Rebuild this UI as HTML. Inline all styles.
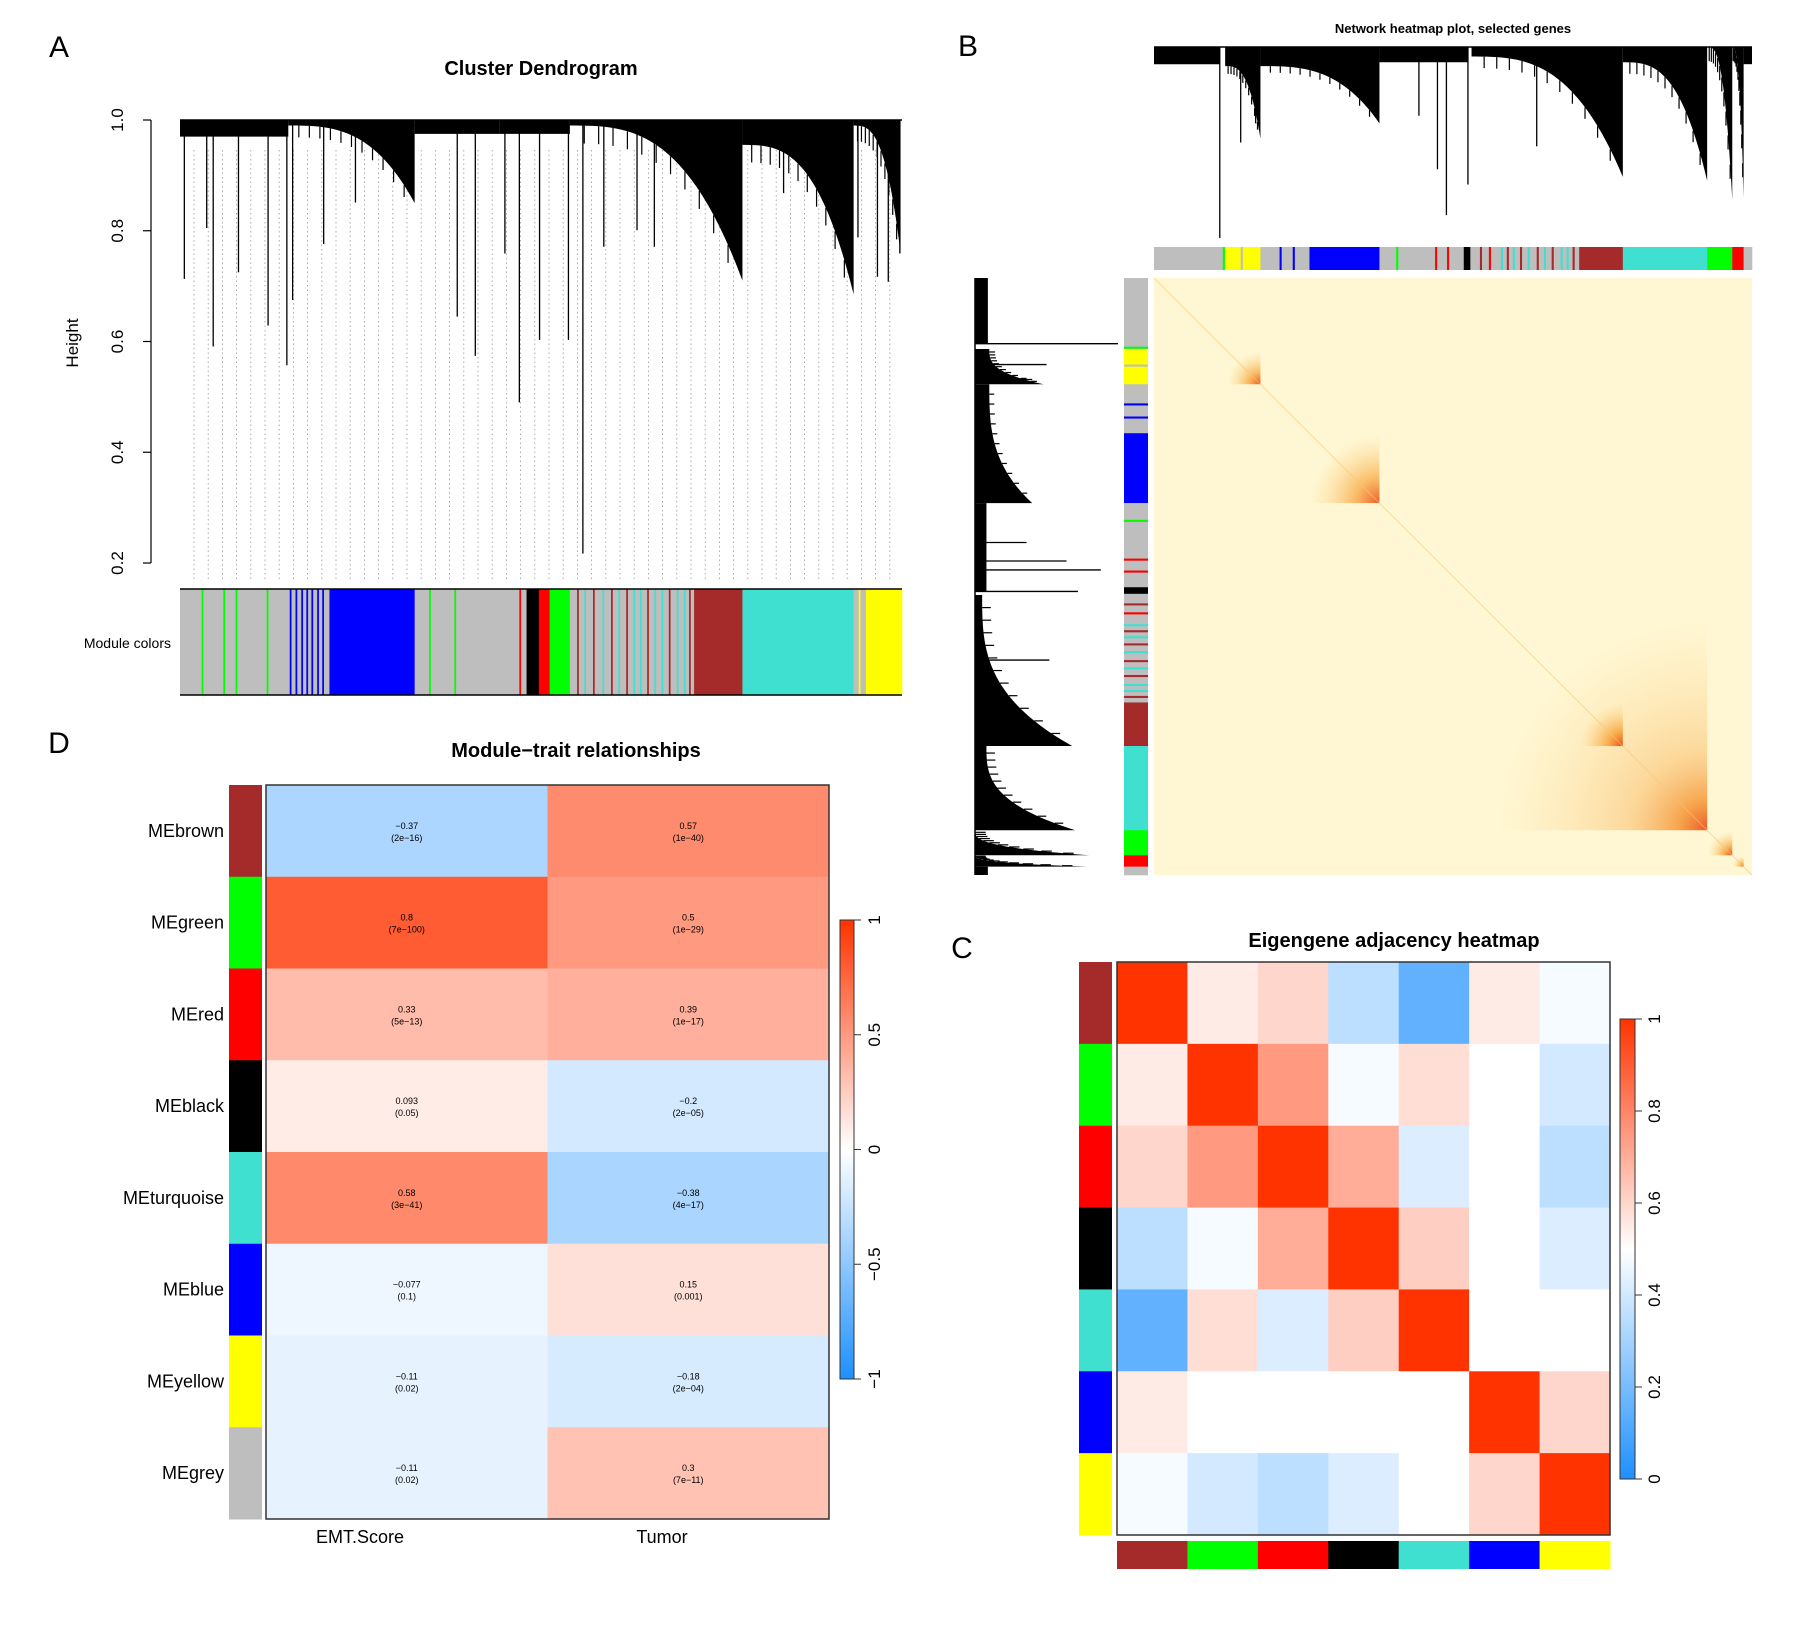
<!DOCTYPE html>
<html><head><meta charset="utf-8"><style>
html,body{margin:0;padding:0;background:#fff;}
svg{display:block;font-family:"Liberation Sans",Arial,sans-serif;}
</style></head><body>
<svg id="fig" width="1820" height="1631" viewBox="0 0 1820 1631" xmlns="http://www.w3.org/2000/svg">
<defs>
<linearGradient id="gD" x1="0" y1="1" x2="0" y2="0">
<stop offset="0" stop-color="#1e90ff"/><stop offset="0.5" stop-color="#ffffff"/><stop offset="1" stop-color="#ff3300"/>
</linearGradient>
</defs>
<g id="panelA"></g>
<g id="panelB"></g>
<g id="panelC"></g>
<g id="panelD"></g>
</svg>
<script>
// ---------- DATA ----------
const MC = {grey:'#bebebe',blue:'#0000ff',black:'#000000',red:'#ff0000',green:'#00ff00',brown:'#a52a2a',turquoise:'#40e0d0',yellow:'#ffff00'};
// Panel A dendrogram: flat blocks [x0,x1,h], curves [x0,x1,htop,hend], spikes [x,h]
const aBlocks = [[0.0,0.15,0.97],[0.325,0.442,0.975],[0.442,0.54,0.975]];
const aCurves = [[0.15,0.325,0.99,0.85],[0.54,0.779,0.99,0.71],[0.779,0.933,0.955,0.685],[0.933,0.998,0.99,0.76]];
const aSpikes = [[0.006,0.713],[0.046,0.591],[0.037,0.805],[0.081,0.725],[0.122,0.629],[0.148,0.557],[0.156,0.675],[0.199,0.776],[0.243,0.851],[0.384,0.645],[0.409,0.574],[0.470,0.490],[0.450,0.759],[0.498,0.603],[0.538,0.603],[0.558,0.217],[0.587,0.771],[0.633,0.801],[0.657,0.771],[0.836,0.868],[0.939,0.788],[0.966,0.717],[0.981,0.708],[0.997,0.759]];
const aSegs = [[0,0.15,'grey'],[0.15,0.207,'grey'],[0.207,0.325,'blue'],[0.325,0.48,'grey'],[0.48,0.497,'black'],[0.497,0.512,'red'],[0.512,0.54,'green'],[0.54,0.712,'grey'],[0.712,0.779,'brown'],[0.779,0.933,'turquoise'],[0.933,0.95,'grey'],[0.95,1,'yellow']];
const aStripes = [[0.03,'green'],[0.06,'green'],[0.077,'green'],[0.12,'green'],[0.152,'blue'],[0.16,'blue'],[0.168,'blue'],[0.175,'blue'],[0.182,'blue'],[0.19,'blue'],[0.197,'blue'],[0.345,'green'],[0.38,'green'],[0.47,'red'],[0.55,'brown'],[0.56,'turquoise'],[0.572,'brown'],[0.585,'turquoise'],[0.597,'brown'],[0.607,'turquoise'],[0.618,'brown'],[0.628,'turquoise'],[0.637,'turquoise'],[0.647,'brown'],[0.657,'turquoise'],[0.667,'turquoise'],[0.677,'brown'],[0.688,'turquoise'],[0.698,'turquoise'],[0.705,'brown'],[0.94,'yellow']];
const aTicks = [0.2,0.4,0.6,0.8,1.0];
// Panel B
const bBlocks = [[0,0.11,0.91],[0.377,0.525,0.92],[0.986,1,0.91]];
const bCurves = [[0.119,0.178,0.9,0.52],[0.178,0.377,0.9,0.6],[0.531,0.784,0.95,0.32],[0.784,0.925,0.92,0.3],[0.925,0.967,1.0,0.2],[0.967,0.986,1.0,0.21]];
const bSpikes = [[0.11,0.0],[0.474,0.36],[0.489,0.12],[0.525,0.28],[0.443,0.64],[0.64,0.48],[0.17,0.6],[0.145,0.5]];
const bSegs = [[0,0.119,'grey'],[0.119,0.178,'yellow'],[0.178,0.26,'grey'],[0.26,0.377,'blue'],[0.377,0.518,'grey'],[0.518,0.529,'black'],[0.529,0.711,'grey'],[0.711,0.784,'brown'],[0.784,0.925,'turquoise'],[0.925,0.967,'green'],[0.967,0.986,'red'],[0.986,1,'grey']];
const bStripes = [[0.115,'green'],[0.145,'grey'],[0.21,'blue'],[0.232,'blue'],[0.405,'green'],[0.47,'red'],[0.49,'red'],[0.545,'brown'],[0.56,'red'],[0.58,'turquoise'],[0.59,'brown'],[0.6,'turquoise'],[0.612,'brown'],[0.625,'turquoise'],[0.64,'brown'],[0.652,'turquoise'],[0.665,'brown'],[0.68,'turquoise'],[0.69,'turquoise'],[0.7,'brown']];
const bHeat = [[0.122,0.178,0.9],[0.26,0.377,0.85],[0.56,0.925,0.45],[0.711,0.784,0.95],[0.784,0.925,0.75],[0.925,0.967,0.95],[0.967,0.986,0.85]];
// Panel C
const cMods = ['brown','green','red','black','turquoise','blue','yellow'];
const cRow0 = [1,0.55,0.6,0.35,0.15,0.55,0.48];
const cRow1 = [0.55,1,0.75,0.48,0.58,0.5,0.4];
const cRow2 = [0.6,0.75,1,0.7,0.42,0.5,0.35];
const cRow3 = [0.35,0.48,0.7,1,0.62,0.5,0.42];
const cRow4 = [0.15,0.58,0.42,0.62,1,0.5,0.5];
const cRow5 = [0.55,0.5,0.5,0.5,0.5,1,0.6];
const cRow6 = [0.48,0.4,0.35,0.42,0.5,0.6,1];
const cTicks = ['0','0.2','0.4','0.6','0.8','1'];
// Panel D
const dRows = ['MEbrown','MEgreen','MEred','MEblack','MEturquoise','MEblue','MEyellow','MEgrey'];
const dRowCols = ['brown','green','red','black','turquoise','blue','yellow','grey'];
const dCols = ['EMT.Score','Tumor'];
const dEmt = [-0.37,0.8,0.33,0.093,0.58,-0.077,-0.11,-0.11];
const dEmtP = ['2e-16','7e-100','5e-13','0.05','3e-41','0.1','0.02','0.02'];
const dTum = [0.57,0.5,0.39,-0.2,-0.38,0.15,-0.18,0.3];
const dTumP = ['1e-40','1e-29','1e-17','2e-05','4e-17','0.001','2e-04','7e-11'];
const dTicks = ['−1','−0.5','0','0.5','1'];

// ---------- HELPERS ----------
const NS='http://www.w3.org/2000/svg';
function mk(parent,tag,attrs,txt){const e=document.createElementNS(NS,tag);for(const k in attrs)e.setAttribute(k,attrs[k]);if(txt!==undefined)e.textContent=txt;parent.appendChild(e);return e;}
function bwr(v){ // v in [-1,1]
  let r,g,b;
  if(v<0){const t=Math.min(1,-v);r=255-t*(255-30);g=255-t*(255-144);b=255;}
  else{const t=Math.min(1,v);r=255;g=255-t*204;b=255-t*255;}
  return `rgb(${Math.round(r)},${Math.round(g)},${Math.round(b)})`;
}
function fmt(v){return (v<0?'−':'')+String(Math.abs(v));}
function drawDendro(g,blocks,curves,spikes,P,name){
  const grp=mk(g,'g',{});
  
  
  const pt=(f,h)=>P(f,h).join(',');
  for(const b of blocks){
    const p=mk(grp,'polygon',{points:[pt(b[0],1),pt(b[1],1),pt(b[1],b[2]),pt(b[0],b[2])].join(' '),fill:'#000'});
    
    
  }
  for(const c of curves){
    const pts=[pt(c[0],1),pt(c[1],1)];
    for(let i=30;i>=0;i--){const t=i/30;const f=c[0]+(c[1]-c[0])*t;const h=c[2]-(c[2]-c[3])*Math.pow(t,3);pts.push(pt(f,h));}
    const p=mk(grp,'polygon',{points:pts.join(' '),fill:'#000'});
    
    
    // hair lines hanging below top
    for(let i=1;i<12;i++){const t=i/12;const f=c[0]+(c[1]-c[0])*t;const h=c[2]-(c[2]-c[3])*Math.pow(t,3);const h2=h-(c[2]-c[3])*0.08-0.01;
      const [x1,y1]=P(f,h),[x2,y2]=P(f,h2);mk(grp,'line',{x1,y1,x2,y2,stroke:'#000','stroke-width':1.2});}
  }
  for(const s of spikes){
    const [x1,y1]=P(s[0],1),[x2,y2]=P(s[0],s[1]);
    const l=mk(grp,'line',{x1,y1,x2,y2,stroke:'#000','stroke-width':1.3});
    
    
  }
  const [a1,b1]=P(0,1),[a2,b2]=P(1,1);
  mk(grp,'line',{x1:a1,y1:b1,x2:a2,y2:b2,stroke:'#000','stroke-width':1.5});
}
function colorBar(g,segs,stripes,R,name,sw){
  const grp=mk(g,'g',{});
  
  
  for(const s of segs){const r=R(s[0],s[1]);const e=mk(grp,'rect',Object.assign(r,{fill:MC[s[2]]}));
    
    }
  for(const s of stripes){const r=R(s[0],s[0]+sw);mk(grp,'rect',Object.assign(r,{fill:MC[s[1]]}));}
}

// ---------- PANEL A ----------
(function(){
  const g=document.getElementById('panelA');
  const X0=180,X1=902,yA=h=>120+(1-h)/0.8*443;
  const P=(f,h)=>[X0+f*(X1-X0),yA(h)];
  mk(g,'text',{x:59,y:57,'font-size':30,'text-anchor':'middle'},'A');
  const t=mk(g,'text',{x:541,y:75,'font-size':20,'font-weight':'bold','text-anchor':'middle'},'Cluster Dendrogram');
  
  
  // dotted guides
  for(let x=194;x<X1;x+=14.2){mk(g,'line',{x1:x,y1:150,x2:x,y2:581,stroke:'#999','stroke-width':0.8,'stroke-dasharray':'1.5,3'});}
  drawDendro(g,aBlocks,aCurves,aSpikes,P,'dendrogram-a');
  // y axis
  mk(g,'line',{x1:151,y1:yA(1),x2:151,y2:yA(0.2),stroke:'#000','stroke-width':1.2});
  for(const v of aTicks){const y=yA(v);mk(g,'line',{x1:143,y1:y,x2:151,y2:y,stroke:'#000','stroke-width':1.2});
    const tx=mk(g,'text',{x:123,y:y,'font-size':17,'text-anchor':'middle',transform:`rotate(-90 123 ${y})`},v.toFixed(1));
    
    }
  const yl=mk(g,'text',{x:78,y:343,'font-size':17,'text-anchor':'middle',transform:'rotate(-90 78 343)'},'Height');
  
  
  colorBar(g,aSegs,aStripes,(a,b)=>({x:X0+a*(X1-X0),y:589,width:(b-a)*(X1-X0)+0.3,height:106}),'module-color-bar-a',0.002);
  mk(g,'line',{x1:X0,y1:589,x2:X1,y2:589,stroke:'#000','stroke-width':1.5});
  mk(g,'line',{x1:X0,y1:695,x2:X1,y2:695,stroke:'#000','stroke-width':1.5});
  const ml=mk(g,'text',{x:171,y:648,'font-size':14,'text-anchor':'end'},'Module colors');
  
  
})();

// ---------- PANEL B ----------
(function(){
  const g=document.getElementById('panelB');
  const HX0=1154,HX1=1752,HY0=278,HY1=875;
  mk(g,'text',{x:968,y:56,'font-size':30,'text-anchor':'middle'},'B');
  const t=mk(g,'text',{x:1453,y:33,'font-size':13,'font-weight':'bold','text-anchor':'middle'},'Network heatmap plot, selected genes');
  
  
  drawDendro(g,bBlocks,bCurves,bSpikes,(f,h)=>[HX0+f*(HX1-HX0),47+(1-h)*191],'dendrogram-top');
  drawDendro(g,bBlocks,bCurves,bSpikes,(f,h)=>[975+(1-h)*143,HY0+f*(HY1-HY0)],'dendrogram-left');
  colorBar(g,bSegs,bStripes,(a,b)=>({x:HX0+a*(HX1-HX0),y:247,width:(b-a)*(HX1-HX0)+0.3,height:23}),'module-color-bar-top',0.003);
  colorBar(g,bSegs,bStripes,(a,b)=>({x:1124,y:HY0+a*(HY1-HY0),width:24,height:(b-a)*(HY1-HY0)+0.3}),'module-color-bar-left',0.003);
  const hm=mk(g,'g',{});
  
  
  mk(hm,'rect',{x:HX0,y:HY0,width:HX1-HX0,height:HY1-HY0,fill:'#fff7d4'});
  const defs=document.querySelector('defs');
  bHeat.forEach((b,i)=>{
    const rg=mk(defs,'radialGradient',{id:'bh'+i,cx:'1',cy:'1',r:'1'});
    mk(rg,'stop',{offset:'0','stop-color':'#e8400f','stop-opacity':b[2]});
    mk(rg,'stop',{offset:'0.35','stop-color':'#f5921a','stop-opacity':b[2]*0.7});
    mk(rg,'stop',{offset:'1','stop-color':'#fbd27a','stop-opacity':0});
    const x=HX0+b[0]*(HX1-HX0),w=(b[1]-b[0])*(HX1-HX0),y=HY0+b[0]*(HY1-HY0),h=(b[1]-b[0])*(HY1-HY0);
    const r=mk(hm,'rect',{x,y,width:w,height:h,fill:`url(#bh${i})`});
    
    
  });
  mk(hm,'line',{x1:HX0,y1:HY0,x2:HX1,y2:HY1,stroke:'#f6c86a','stroke-width':1,opacity:0.6});
})();

// ---------- PANEL C ----------
(function(){
  const g=document.getElementById('panelC');
  const rows=[cRow0,cRow1,cRow2,cRow3,cRow4,cRow5,cRow6];
  const X0=1117,X1=1610,Y0=962,Y1=1535,cw=(X1-X0)/cMods.length,ch=(Y1-Y0)/cMods.length;
  mk(g,'text',{x:962,y:958,'font-size':30,'text-anchor':'middle'},'C');
  const t=mk(g,'text',{x:1394,y:947,'font-size':20,'font-weight':'bold','text-anchor':'middle'},'Eigengene adjacency heatmap');
  
  
  rows.forEach((row,i)=>{row.forEach((v,j)=>{
    const r=mk(g,'rect',{x:X0+j*cw,y:Y0+i*ch,width:cw+0.5,height:ch+0.5,fill:bwr((v-0.5)*2)});
    
    
  });});
  mk(g,'rect',{x:X0,y:Y0,width:X1-X0,height:Y1-Y0,fill:'none',stroke:'#333','stroke-width':1.5});
  cMods.forEach((m,i)=>{
    const a=mk(g,'rect',{x:1079,y:Y0+i*ch,width:33,height:ch+0.5,fill:MC[m]});
    
    
    const b=mk(g,'rect',{x:X0+i*cw,y:1541,width:cw+0.5,height:28,fill:MC[m]});
    
    
  });
  const LY0=1019,LY1=1479;
  const lg=mk(g,'rect',{x:1620,y:LY0,width:15,height:LY1-LY0,fill:'url(#gD)',stroke:'#333','stroke-width':1});
  
  
  cTicks.forEach((s,i)=>{const y=LY1-i*(LY1-LY0)/(cTicks.length-1);
    mk(g,'line',{x1:1635,y1:y,x2:1642,y2:y,stroke:'#333'});
    const tx=mk(g,'text',{x:1660,y:y,'font-size':17,'text-anchor':'middle',transform:`rotate(-90 1660 ${y})`},s);
    
    });
})();

// ---------- PANEL D ----------
(function(){
  const g=document.getElementById('panelD');
  const X0=266,X1=829,Y0=785,Y1=1519,cw=(X1-X0)/dCols.length,rh=(Y1-Y0)/dRows.length;
  mk(g,'text',{x:59,y:753,'font-size':30,'text-anchor':'middle'},'D');
  const t=mk(g,'text',{x:576,y:757,'font-size':20,'font-weight':'bold','text-anchor':'middle'},'Module−trait relationships');
  
  
  const series=[[dEmt,dEmtP],[dTum,dTumP]];
  dRows.forEach((name,i)=>{
    const y=Y0+i*rh;
    series.forEach((s,j)=>{
      const r=mk(g,'rect',{x:X0+j*cw,y,width:cw+0.5,height:rh+0.5,fill:bwr(s[0][i])});
      
      
      const cx=X0+j*cw+cw/2;
      mk(g,'text',{x:cx,y:y+rh/2-2,'font-size':9,'text-anchor':'middle'},fmt(s[0][i]));
      mk(g,'text',{x:cx,y:y+rh/2+10,'font-size':9,'text-anchor':'middle'},'('+s[1][i].replace('-','−')+')');
    });
    const sb=mk(g,'rect',{x:229,y,width:33,height:rh+0.5,fill:MC[dRowCols[i]]});
    
    
    const lb=mk(g,'text',{x:224,y:y+rh/2+6,'font-size':18,'text-anchor':'end'},name);
    
    
  });
  mk(g,'rect',{x:X0,y:Y0,width:X1-X0,height:Y1-Y0,fill:'none',stroke:'#333','stroke-width':1.5});
  [[360,dCols[0]],[662,dCols[1]]].forEach(c=>{const e=mk(g,'text',{x:c[0],y:1543,'font-size':18,'text-anchor':'middle'},c[1]);
    
    });
  const LY0=920,LY1=1379;
  const lg=mk(g,'rect',{x:840,y:LY0,width:14,height:LY1-LY0,fill:'url(#gD)',stroke:'#333','stroke-width':1});
  
  
  dTicks.forEach((s,i)=>{const y=LY1-i*(LY1-LY0)/(dTicks.length-1);
    mk(g,'line',{x1:854,y1:y,x2:861,y2:y,stroke:'#333'});
    const tx=mk(g,'text',{x:880,y:y,'font-size':17,'text-anchor':'middle',transform:`rotate(-90 880 ${y})`},s);
    
    });
})();
</script>
</body></html>
